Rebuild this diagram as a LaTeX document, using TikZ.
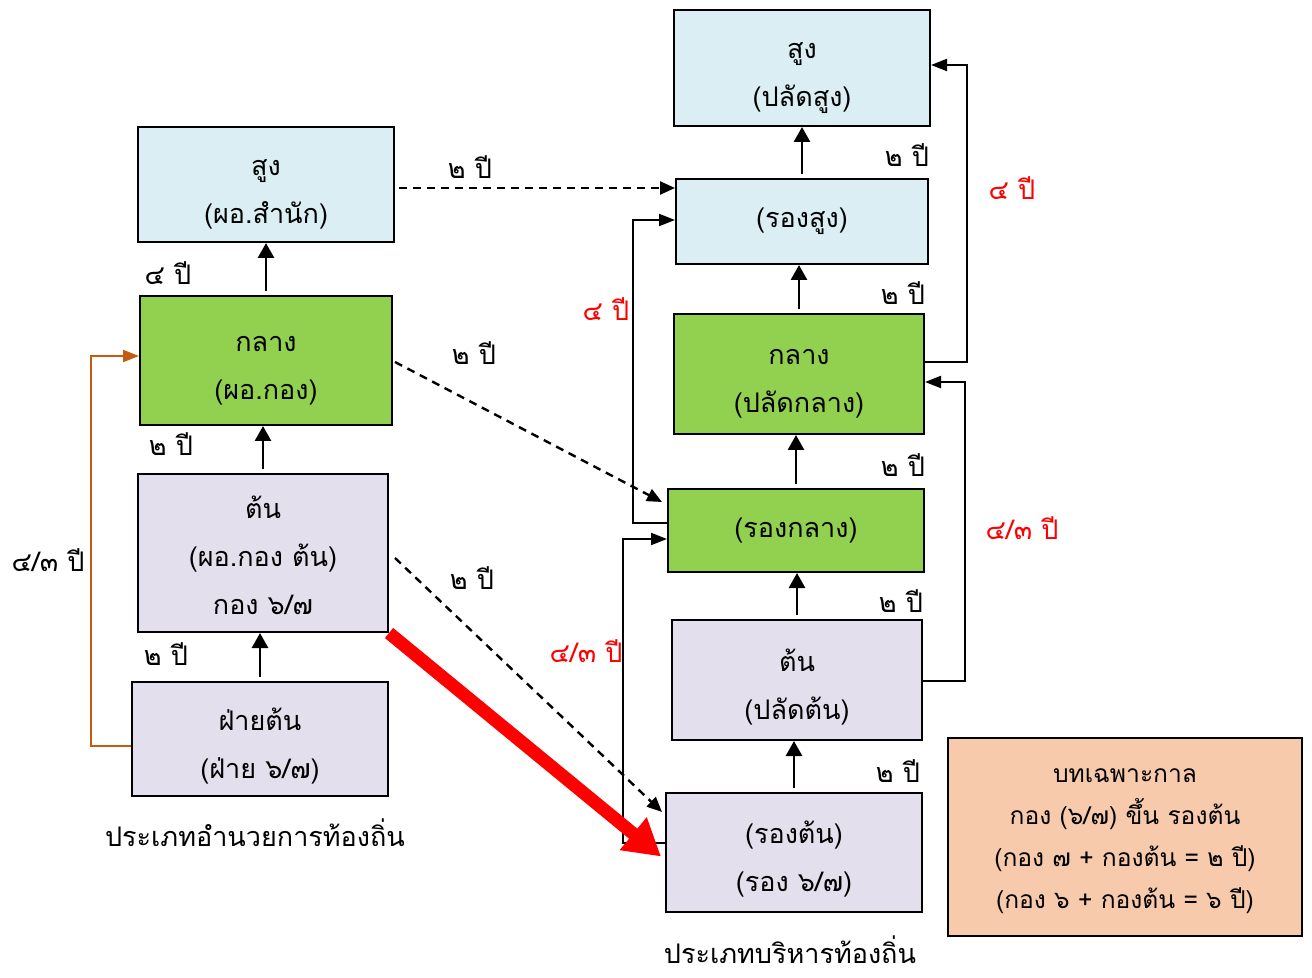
\documentclass[tikz,border=0pt]{standalone}
\usepackage{fontspec}
\usepackage{xcolor}
\newfontfamily\thaifont[Script=Thai]{Loma}
\usetikzlibrary{arrows.meta,calc}
\definecolor{boxblue}{HTML}{DAEEF3}
\definecolor{boxgreen}{HTML}{92D050}
\definecolor{boxlilac}{HTML}{E4DFEC}
\definecolor{notepeach}{HTML}{F7CAAC}
\definecolor{linkorange}{HTML}{C55A11}
\newcommand{\topstrut}[1][27pt]{\rule[-6pt]{0pt}{#1}}
\newcommand{\boxstrut}{\rule[-6pt]{0pt}{17pt}}
\newcommand{\notestrut}{\rule[-6pt]{0pt}{15pt}}
\tikzset{
  font={\thaifont\fontsize{13.5pt}{24pt}\selectfont},
  box/.style={draw=black, line width=1pt, align=center, inner sep=0pt},
  up/.style={line width=1.4pt, shorten <=2pt, -{Triangle[length=7.5pt,width=8pt]}},
  side/.style={line width=1pt, -{Triangle[length=8pt,width=6pt]}},
  dashline/.style={line width=1.2pt, dash pattern=on 4pt off 3pt, -{Triangle[length=7.5pt,width=6.5pt]}},
  yr/.style={inner sep=0pt},
  redyr/.style={inner sep=0pt, text=red}}

\begin{document}
\begin{tikzpicture}[x=0.5pt,y=-0.5pt]
\useasboundingbox (0,0) rectangle (1312,978);
\node [box, fill=boxblue, minimum width=128pt, minimum height=57.5pt] (adsung) at (266,184.5) {\topstrut สูง\\\boxstrut(ผอ.สำนัก)};
\node [box, fill=boxgreen, minimum width=126pt, minimum height=64.5pt] (adklang) at (266,360.5) {\topstrut กลาง\\\boxstrut(ผอ.กอง)};
\node [box, fill=boxlilac, minimum width=125pt, minimum height=79pt] (adton) at (263,553) {\topstrut[25pt]ต้น\\\boxstrut(ผอ.กอง ต้น)\\\boxstrut กอง ๖/๗};
\node [box, fill=boxlilac, minimum width=128pt, minimum height=57pt] (faiton) at (260,739) {\topstrut ฝ่ายต้น\\\boxstrut(ฝ่าย ๖/๗)};
\node [yr] (adname) at (255,833) {ประเภทอำนวยการท้องถิ่น};
\node [box, fill=boxblue, minimum width=128pt, minimum height=58pt] (pasung) at (802,68) {\topstrut สูง\\\boxstrut(ปลัดสูง)};
\node [box, fill=boxblue, minimum width=126pt, minimum height=42.5pt] (rongsung) at (802,221.5) {(รองสูง)};
\node [box, fill=boxgreen, minimum width=125pt, minimum height=60pt] (paklang) at (799,374) {\topstrut กลาง\\\boxstrut(ปลัดกลาง)};
\node [box, fill=boxgreen, minimum width=128pt, minimum height=41.5pt] (rongklang) at (796,530.5) {(รองกลาง)};
\node [box, fill=boxlilac, minimum width=125pt, minimum height=60pt] (paton) at (797,680) {\topstrut ต้น\\\boxstrut(ปลัดต้น)};
\node [box, fill=boxlilac, minimum width=128pt, minimum height=59.5pt] (rongton) at (794,852.5) {\topstrut(รองต้น)\\\boxstrut(รอง ๖/๗)};
\node [yr] (paname) at (790,950) {ประเภทบริหารท้องถิ่น};
\node [box, fill=notepeach, minimum width=177pt, minimum height=99pt, font={\thaifont\fontsize{12.3pt}{21pt}\selectfont}] (note) at (1125,837) {\topstrut[20pt]บทเฉพาะกาล\\\notestrut กอง (๖/๗) ขึ้น รองต้น\\\notestrut(กอง ๗ + กองต้น = ๒ ปี)\\\notestrut(กอง ๖ + กองต้น = ๖ ปี)};
\draw [up] (adklang.north) -- (adsung.south);
\draw [up] (adton.north) -- (adton.north |- adklang.south);
\draw [up] (faiton.north) -- (faiton.north |- adton.south);
\node [yr] (y1) at (168,273) {๔ ปี};
\node [yr] (y2) at (171,444) {๒ ปี};
\node [yr] (y3) at (166,654) {๒ ปี};
\draw [line width=1pt, linkorange, -{Triangle[length=8pt,width=6pt]}] ($(faiton.west)+(0,7)$) -- ++(-40,0) |- ($(adklang.west)+(0,-4.5)$);
\node [yr] (y4) at (48,560) {๔/๓ ปี};
\draw [up] (rongsung.north) -- (pasung.south);
\draw [up] (paklang.north) -- (paklang.north |- rongsung.south);
\draw [up] (rongklang.north) -- (rongklang.north |- paklang.south);
\draw [up] (paton.north) -- (paton.north |- rongklang.south);
\draw [up] (rongton.north) -- (rongton.north |- paton.south);
\node [yr] (y5) at (907,155) {๒ ปี};
\node [yr] (y6) at (903,293) {๒ ปี};
\node [yr] (y7) at (903,465) {๒ ปี};
\node [yr] (y8) at (901,601) {๒ ปี};
\node [yr] (y9) at (898,771) {๒ ปี};
\draw [side] ($(paklang.east)+(0,-12)$) -- ++(42,0) |- ($(pasung.east)+(0,-3)$);
\draw [side] ($(paton.east)+(0,1)$) -- ++(42,0) |- ($(paklang.east)+(0,8)$);
\draw [side] ($(rongklang.west)+(0,-7.5)$) -- ++(-34,0) |- ($(rongsung.west)+(0,-1.5)$);
\draw [side] ($(rongton.west)+(0,-9.5)$) -- ++(-42,0) |- ($(rongklang.west)+(0,8.5)$);
\node [redyr] (y10) at (1012,188) {๔ ปี};
\node [redyr] (y11) at (1022,528) {๔/๓ ปี};
\node [redyr] (y12) at (606,309) {๔ ปี};
\node [redyr] (y13) at (586,651) {๔/๓ ปี};
\draw [dashline] ($(adsung.east)+(4,3.5)$) -- ($(rongsung.west)+(0,-33.5)$);
\draw [dashline] ($(adklang.east)+(2,1.5)$) -- ($(rongklang.north west)+(-5,14)$);
\draw [dashline] ($(adton.east)+(6,5)$) -- ($(rongton.north west)+(-3,20)$);
\node [yr] (y14) at (470,167) {๒ ปี};
\node [yr] (y15) at (474,353) {๒ ปี};
\node [yr] (y16) at (472,578) {๒ ปี};
\draw [red, line width=6.5pt, -{Triangle[length=18pt,width=20pt]}] (adton.south east) -- ($(rongton.west)+(-4,4)$);
\end{tikzpicture}
\end{document}
